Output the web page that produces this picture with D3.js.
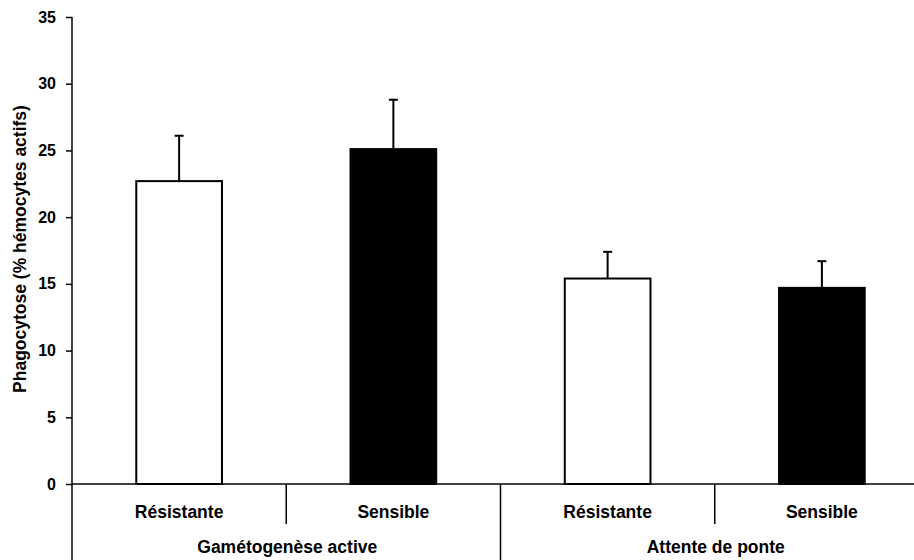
<!DOCTYPE html>
<html>
<head>
<meta charset="utf-8">
<script src="https://cdn.jsdelivr.net/npm/d3@7"></script>
<style>
  html, body { margin: 0; padding: 0; background: #fff; }
  svg { display: block; }
  text { font-family: "Liberation Sans", Arial, Helvetica, sans-serif; font-weight: bold; fill: #000; }
</style>
</head>
<body>
<svg id="chart" width="914" height="560"></svg>
<script>
// Phagocytosis by hemocytes, by strain and reproductive stage
const groups = ["Gamétogenèse active", "Attente de ponte"];
const strains = ["Résistante", "Sensible"];
const strainFill = ["#ffffff", "#000000"];
const meanValues = [[22.7, 25.1], [15.4, 14.7]];
const errorValues = [[3.4, 3.7], [2.0, 2.0]];
const yTicks = [0, 5, 10, 15, 20, 25, 30, 35];
const yLabel = "Phagocytose (% hémocytes actifs)";

const svg = d3.select("#chart");
const W = 914, H = 560;
const left = 72, plotTop = 17, base = 484, groupEnd = 929;

const y = d3.scaleLinear().domain([0, 35]).range([base, plotTop]);
const x0 = d3.scaleBand().domain(groups).range([left, groupEnd]).padding(0);
const x1 = d3.scaleBand().domain(strains).range([0, x0.bandwidth()]).padding(0);
const barW = x1.bandwidth() * 0.4;

const rows = [];
groups.forEach((g, gi) => strains.forEach((s, si) => {
  rows.push({ g, s, si, v: meanValues[gi][si], e: errorValues[gi][si] });
}));

// bars
const bars = svg.append("g");
bars.selectAll("rect").data(rows).join("rect")
  .attr("x", d => x0(d.g) + x1(d.s) + (x1.bandwidth() - barW) / 2)
  .attr("y", d => y(d.v))
  .attr("width", barW)
  .attr("height", d => y(0) - y(d.v))
  .attr("fill", d => strainFill[d.si])
  .attr("stroke", "#000")
  .attr("stroke-width", 2);

// upper error bars
const err = svg.append("g").attr("stroke", "#000").attr("stroke-width", 2);
const cx = d => x0(d.g) + x1(d.s) + x1.bandwidth() / 2;
err.selectAll("line.stem").data(rows).join("line").attr("class", "stem")
  .attr("x1", cx).attr("x2", cx)
  .attr("y1", d => y(d.v)).attr("y2", d => y(d.v + d.e));
err.selectAll("line.cap").data(rows).join("line").attr("class", "cap")
  .attr("x1", d => cx(d) - 4.5).attr("x2", d => cx(d) + 4.5)
  .attr("y1", d => y(d.v + d.e)).attr("y2", d => y(d.v + d.e));

// y axis
const yAxis = svg.append("g").attr("transform", `translate(${left},0)`)
  .call(d3.axisLeft(y).tickValues(yTicks).tickSize(6).tickPadding(10).tickFormat(d3.format("d")));
yAxis.select(".domain").remove();
yAxis.selectAll(".tick line").attr("stroke", "#000").attr("stroke-width", 1.5);
yAxis.selectAll(".tick text").style("font-size", "16px").style("font-weight", "bold")
  .attr("font-family", null);

const frame = svg.append("g").attr("stroke", "#000").attr("stroke-width", 1.5);
frame.append("line").attr("x1", left).attr("x2", left).attr("y1", plotTop).attr("y2", H);
frame.append("line").attr("x1", left).attr("x2", W).attr("y1", base).attr("y2", base);

// category dividers: short between strains, long between groups
groups.forEach((g, gi) => {
  const mid = x0(g) + x1(strains[1]);
  frame.append("line").attr("x1", mid).attr("x2", mid).attr("y1", base).attr("y2", base + 40);
  if (gi > 0) {
    frame.append("line").attr("x1", x0(g)).attr("x2", x0(g)).attr("y1", base).attr("y2", H);
  }
});

// strain labels
svg.append("g").selectAll("text").data(rows).join("text")
  .attr("x", cx).attr("y", base + 34)
  .attr("text-anchor", "middle").style("font-size", "17.5px")
  .text(d => d.s);

// group labels
svg.append("g").selectAll("text").data(groups).join("text")
  .attr("x", d => x0(d) + x0.bandwidth() / 2 + 1).attr("y", base + 69)
  .attr("text-anchor", "middle").style("font-size", "17.5px")
  .text(d => d);

// y axis title
svg.append("text")
  .attr("transform", `translate(26,249) rotate(-90)`)
  .attr("text-anchor", "middle").style("font-size", "17.5px")
  .text(yLabel);
</script>
</body>
</html>
